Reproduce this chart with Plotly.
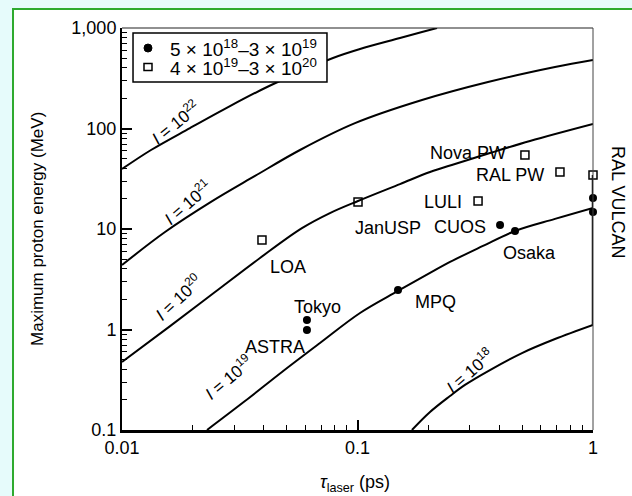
import numpy as np
import plotly.graph_objects as go

# ---- iso-intensity curves: laser pulse duration (ps) vs max proton energy (MeV)
tau_i22 = [0.0100, 0.01328, 0.01944, 0.02874, 0.04048, 0.05700, 0.07870, 0.1025, 0.1515, 0.1879, 0.2176]
e_i22 = [39.5, 61.1, 101, 167, 253, 365, 503, 618, 794, 912, 1000]

tau_i21 = [0.0100, 0.01523, 0.02387, 0.03671, 0.05700, 0.09759, 0.1879, 0.3581, 0.6896, 1.0]
e_i21 = [4.38, 9.33, 18.6, 33.7, 61.1, 113, 192, 290, 409, 481]

tau_i20 = [0.0100, 0.01600, 0.02483, 0.03855, 0.05809, 0.07638, 0.1005, 0.1515, 0.2032, 0.2594, 0.3651, 0.5401, 1.0]
e_i20 = [0.475, 1.08, 2.36, 5.15, 10.2, 14.4, 19.0, 28.0, 36.9, 44.4, 57.0, 75.2, 111]

tau_i19 = [0.02296, 0.03329, 0.04778, 0.06930, 0.1025, 0.1486, 0.2032, 0.2471, 0.3410, 0.4665, 0.6896, 1.0]
e_i19 = [0.1, 0.194, 0.378, 0.734, 1.46, 2.42, 3.65, 4.70, 6.78, 9.55, 12.6, 16.2]

tau_i18 = [0.1703, 0.2032, 0.2471, 0.2860, 0.3651, 0.4994, 0.6896, 1.0]
e_i18 = [0.1, 0.151, 0.218, 0.281, 0.395, 0.583, 0.804, 1.11]

curve_names = ["10<sup>22</sup>", "10<sup>21</sup>", "10<sup>20</sup>", "10<sup>19</sup>", "10<sup>18</sup>"]

# ---- experiments, intensity 5e18-3e19 (filled circles)
circle_names = ["Tokyo", "Tokyo", "MPQ", "CUOS", "Osaka", "RAL VULCAN", "RAL VULCAN"]
circle_tau = [0.0610, 0.0610, 0.1486, 0.403, 0.4665, 1.0, 1.0]
circle_e = [1.24, 0.99, 2.47, 10.96, 9.55, 20.3, 14.8]

# ---- experiments, intensity 4e19-3e20 (open squares)
square_names = ["LOA", "JanUSP", "LULI", "Nova PW", "RAL PW", "RAL VULCAN"]
square_tau = [0.0393, 0.1005, 0.325, 0.514, 0.724, 1.0]
square_e = [7.77, 18.6, 19.0, 54.5, 36.9, 34.4]

# RAL VULCAN spread of energies at 1 ps
vulcan_tau = [1.0, 1.0]
vulcan_e = [1.11, 34.4]

legend_names = ["5 × 10<sup>18</sup>–3 × 10<sup>19</sup>", "4 × 10<sup>19</sup>–3 × 10<sup>20</sup>"]

FONT = "Liberation Sans, Arial, Helvetica, sans-serif"

fig = go.Figure()

for tau, e in [(tau_i22, e_i22), (tau_i21, e_i21), (tau_i20, e_i20),
               (tau_i19, e_i19), (tau_i18, e_i18)]:
    fig.add_trace(go.Scatter(x=tau, y=e, mode="lines", line=dict(color="black", width=2, shape="spline"),
                             showlegend=False, hoverinfo="skip"))

fig.add_trace(go.Scatter(x=vulcan_tau, y=vulcan_e, mode="lines", line=dict(color="black", width=2.5),
                         showlegend=False, cliponaxis=False))

fig.add_trace(go.Scatter(x=circle_tau, y=circle_e, mode="markers", name=legend_names[0],
                         text=circle_names, showlegend=False,
                         marker=dict(symbol="circle", size=8, color="black"),
                         cliponaxis=False))
fig.add_trace(go.Scatter(x=square_tau, y=square_e, mode="markers", name=legend_names[1],
                         text=square_names, showlegend=False,
                         marker=dict(symbol="square-open", size=8, color="black", line=dict(width=1.5)),
                         cliponaxis=False))

# facility labels (tau, E)
site_labels = [
    ("LOA", 0.0507, 4.19), ("JanUSP", 0.1347, 10.2), ("Nova PW", 0.2945, 57.0),
    ("RAL PW", 0.444, 34.4), ("LULI", 0.2307, 18.6), ("CUOS", 0.2723, 10.5),
    ("Osaka", 0.540, 5.77), ("MPQ", 0.2134, 1.88), ("Tokyo", 0.0673, 1.67),
    ("ASTRA", 0.0447, 0.670),
]
for text, tx, ty in site_labels:
    fig.add_annotation(x=np.log10(tx), y=np.log10(ty), text=text, showarrow=False,
                       font=dict(family=FONT, size=18, color="black"))

# intensity labels along the curves
curve_label_pos = [(0.0168, 116, -39), (0.0189, 18.6, -41), (0.0173, 2.10, -43),
                   (0.0282, 0.337, -40), (0.300, 0.395, -41)]
for name, (tx, ty, ang) in zip(curve_names, curve_label_pos):
    fig.add_annotation(x=np.log10(tx), y=np.log10(ty), text="<i>I</i> = " + name, showarrow=False,
                       textangle=ang, font=dict(family=FONT, size=17, color="black"))

fig.add_annotation(xref="paper", yref="paper", x=1.053, y=0.567, xanchor="center", yanchor="middle",
                   text="RAL VULCAN", textangle=90,
                   showarrow=False, font=dict(family=FONT, size=18, color="black"))

# axis titles
fig.add_annotation(xref="paper", yref="paper", x=-0.1805, y=0.5, xanchor="center", yanchor="middle",
                   text="Maximum proton energy (MeV)",
                   textangle=-90, showarrow=False, font=dict(family=FONT, size=17, color="black"))
fig.add_annotation(xref="paper", yref="paper", x=0.4947, y=-0.132, xanchor="center", yanchor="middle",
                   text="<i>τ</i><sub>laser</sub> (ps)",
                   showarrow=False, font=dict(family=FONT, size=18, color="black"))

# white panel with green frame, and thin top/right plot edges
fig.add_shape(type="rect", xref="paper", yref="paper", x0=-0.2314, x1=1.12, y0=-0.2, y1=1.047,
              fillcolor="white", line=dict(color="#2eaa2e", width=2), layer="below")
fig.add_shape(type="line", xref="paper", yref="paper", x0=0, x1=1, y0=1, y1=1,
              line=dict(color="#222", width=1.2))
fig.add_shape(type="line", xref="paper", yref="paper", x0=1, x1=1, y0=0, y1=1,
              line=dict(color="#444", width=1))

# legend box
fig.add_shape(type="rect", xref="paper", yref="paper", x0=0.0234, x1=0.4352, y0=0.8657, y1=0.9876,
              fillcolor="white", line=dict(color="black", width=1.5))
fig.add_shape(type="circle", xref="paper", yref="paper", xsizemode="pixel", ysizemode="pixel",
              xanchor=0.0552, yanchor=0.9502, x0=-4, x1=4, y0=-4, y1=4,
              fillcolor="black", line=dict(color="black", width=1))
fig.add_shape(type="rect", xref="paper", yref="paper", xsizemode="pixel", ysizemode="pixel",
              xanchor=0.0552, yanchor=0.903, x0=-4, x1=4, y0=-3.5, y1=3.5,
              fillcolor="white", line=dict(color="black", width=1.5))
for name, ly in zip(legend_names, [0.9502, 0.903]):
    fig.add_annotation(xref="paper", yref="paper", x=0.0977, y=ly, xanchor="left", yanchor="middle",
                       text=name, showarrow=False, font=dict(family=FONT, size=19, color="black"))

x_minor = [k * 10.0 ** p for p in (-2, -1) for k in range(2, 10)]
y_minor = [k * 10.0 ** p for p in (-1, 0, 1, 2) for k in range(2, 10)]

fig.update_xaxes(type="log", range=[-2, 0], tickvals=[0.01, 0.1, 1], ticktext=["0.01", "0.1", "1"],
                 ticks="inside", ticklen=10, tickwidth=2, tickcolor="black",
                 showline=True, linecolor="black", linewidth=2.5, showgrid=False, zeroline=False,
                 minor=dict(tickvals=x_minor, ticks="inside", ticklen=5, tickwidth=1.2, tickcolor="black", showgrid=False),
                 tickfont=dict(family=FONT, size=18, color="black"))
fig.update_yaxes(type="log", range=[-1, 3], tickvals=[0.1, 1, 10, 100, 1000],
                 ticktext=["0.1", "1", "10", "100", "1,000"],
                 ticks="inside", ticklen=10, tickwidth=2, tickcolor="black",
                 showline=True, linecolor="black", linewidth=2, showgrid=False, zeroline=False,
                 minor=dict(tickvals=y_minor, ticks="inside", ticklen=5, tickwidth=1.2, tickcolor="black", showgrid=False),
                 tickfont=dict(family=FONT, size=18, color="black"))

fig.update_layout(
    width=632, height=496,
    margin=dict(l=122, r=39, t=28, b=66),
    paper_bgcolor="#e6fbfb", plot_bgcolor="white",
    font=dict(family=FONT, size=18, color="black"),
    showlegend=False,
)

fig.write_html("out.html")
